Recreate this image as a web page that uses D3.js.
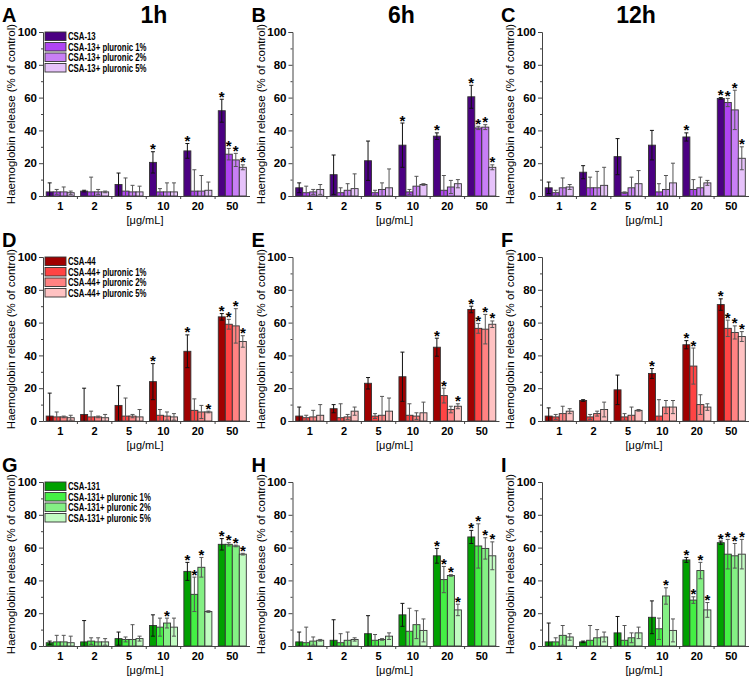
<!DOCTYPE html>
<html>
<head>
<meta charset="utf-8">
<script src="https://cdn.jsdelivr.net/npm/d3@7"></script>
<style>
body { margin: 0; background: #fff; }
text { font-family: "Liberation Sans", Arial, sans-serif; }
</style>
</head>
<body>
<svg id="fig" width="753" height="682"></svg>
<script>
'use strict';

var concentrations = ['1', '2', '5', '10', '20', '50'];
var timepoints = ['1h', '6h', '12h'];
var compounds = ['CSA-13', 'CSA-44', 'CSA-131'];
var suffixes = ['', '+ pluronic 1%', '+ pluronic 2%', '+ pluronic 5%'];
var letters = ['A', 'B', 'C', 'D', 'E', 'F', 'G', 'H', 'I'];
var yTicks = [0, 20, 40, 60, 80, 100];

var purples = ['#4b0082', '#b044f2', '#c87ff5', '#e6c2fa'];
var reds = ['#a00000', '#ff4444', '#ff8282', '#ffc2c2'];
var greens = ['#00a000', '#44f044', '#84f084', '#c2fcc2'];

// CSA-13 -- 1h / 6h / 12h  (one row per series: CSA, +1%, +2%, +5%)
var valA = [[2.5, 3, 7, 20.5, 27.5, 52], [2.5, 2.5, 3, 2.5, 3, 25.5], [2.5, 2.5, 2.5, 2.5, 3, 22], [2, 2.5, 2.5, 2.5, 3.5, 17.5]];
var errA = [[5.5, 0.5, 7, 6.5, 4.5, 7], [1.5, 9, 8, 2, 13, 3.5], [3, 1.5, 4, 5.5, 9.5, 4], [1, 0.5, 3.5, 5.5, 5, 1.5]];
var sigA = [['10', '20', '50'], ['50'], ['50'], ['50']];

var valB = [[5, 13, 21.5, 31, 36.5, 60.5], [2, 2, 2, 2.5, 3.5, 41.5], [2.5, 3.5, 4, 6, 5.5, 42], [4, 4.5, 5, 7, 7.5, 17.5]];
var errB = [[3, 12, 12, 13.5, 2, 7], [4, 3, 1.5, 1.5, 9, 1], [1.5, 4, 4, 6, 4, 1.5], [3, 9, 11.5, 0.5, 2.5, 1.5]];
var sigB = [['10', '20', '50'], ['50'], ['50'], ['50']];

var valC = [[5, 14.5, 24, 31, 36, 59.5], [2, 5, 2, 2.5, 4, 57], [5, 5, 5, 4, 5, 52.5], [5.5, 6.5, 7.5, 8, 8, 23]];
var errC = [[3.5, 4, 11, 9, 2.5, 0.5], [1.5, 6.5, 0.5, 5, 6, 2.5], [6, 10, 6.5, 8.5, 6.5, 12], [1.5, 11, 8, 12, 1.5, 7]];
var sigC = [['20', '50'], ['50'], ['50'], ['50']];

// CSA-44
var valD = [[3, 4, 9.5, 24, 42.5, 63.5], [2.5, 2.5, 3, 3.5, 6.5, 59], [2.5, 2.5, 3, 3, 5.5, 58], [2, 2, 2.5, 2.5, 5.5, 48.5]];
var errD = [[14, 16, 12, 11, 10, 2], [3, 3.5, 11, 3.5, 7, 3], [0.5, 0.5, 1, 2.5, 4, 10.5], [1.5, 2, 4.5, 2, 0.5, 3.5]];
var sigD = [['10', '20', '50'], ['50'], ['50'], ['20', '50']];

var valE = [[3, 7.5, 23, 27, 45, 68], [2, 2, 3, 3.5, 15.5, 56.5], [2.5, 2.5, 3.5, 3, 7, 56], [3.5, 6, 6, 5, 9, 59]];
var errE = [[5.5, 2.5, 3.5, 15, 5.5, 2], [1.5, 8.5, 1.5, 7, 4.5, 3], [4, 1.5, 11.5, 2, 2, 9], [6.5, 2.5, 8, 6.5, 1.5, 2]];
var sigE = [['20', '50'], ['20', '50'], ['50'], ['20', '50']];

var valF = [[3, 12.5, 19, 29, 46.5, 71], [2.5, 2.5, 2.5, 3, 33.5, 56.5], [4.5, 4.5, 3.5, 8.5, 10, 54], [6, 7, 6.5, 8.5, 8.5, 51.5]];
var errF = [[5, 0.5, 9, 3, 2.5, 3.5], [1.5, 1.5, 2, 10, 11, 5], [4.5, 1.5, 5, 4, 6, 4], [1.5, 4.5, 0.5, 4, 2, 3]];
var sigF = [['10', '20', '50'], ['20', '50'], ['50'], ['50']];

// CSA-131
var valG = [[2, 2.5, 4.5, 12.5, 45.5, 62], [2.5, 3, 4, 11.5, 31.5, 62], [2.5, 2.5, 4, 14, 48, 61], [2, 2.5, 4.5, 11.5, 21, 56]];
var errG = [[1, 13, 4, 6.5, 5.5, 3.5], [4, 2, 1.5, 5.5, 10.5, 1], [4, 2.5, 9, 3, 6, 0.5], [4, 2, 1.5, 5.5, 0.5, 0.5]];
var sigG = [['20', '50'], ['20', '50'], ['10', '20', '50'], ['50']];

var valH = [[2.5, 3.5, 7.5, 19, 55, 66.5], [2, 2, 3.5, 9, 40.5, 61], [3, 3.5, 4, 13, 43, 59.5], [3.5, 4, 6, 9.5, 22, 55]];
var errH = [[6, 12.5, 11, 7, 4.5, 4], [9.5, 5.5, 3.5, 14, 8, 13.5], [2.5, 5, 0.5, 8.5, 0.5, 6.5], [0.5, 1, 2, 7, 3.5, 8.5]];
var sigH = [['20', '50'], ['20', '50'], ['20', '50'], ['20', '50']];

var valI = [[2.5, 2.5, 8, 17.5, 52.5, 63], [2.5, 3.5, 3.5, 10.5, 28, 56], [6.5, 5, 5, 30.5, 46, 55], [5.5, 5.5, 8, 9.5, 22, 56]];
var errI = [[11.5, 0.5, 10, 10, 1.5, 1], [2.5, 9, 9, 6.5, 2, 9], [6, 5, 3, 5, 5, 7.5], [2, 3, 3.5, 7, 4.5, 9]];
var sigI = [['20', '50'], ['20', '50'], ['10', '20', '50'], ['20', '50']];

var panels = [
  [valA, errA, sigA], [valB, errB, sigB], [valC, errC, sigC],
  [valD, errD, sigD], [valE, errE, sigE], [valF, errF, sigF],
  [valG, errG, sigG], [valH, errH, sigH], [valI, errI, sigI]
];
var palettes = [purples, reds, greens];
var titleX = [154, 152, 137];

var svg = d3.select('#fig');

panels.forEach(function (p, k) {
  var row = Math.floor(k / 3), col = k % 3;
  var colors = palettes[row];
  var g = svg.append('g')
    .attr('transform', 'translate(' + (col * 249.5) + ',' + (row * 225) + ')');

  var x0 = d3.scaleBand().domain(concentrations).range([43, 249.5]);
  var x1 = d3.scaleBand().domain(d3.range(4)).range([3.2, x0.bandwidth() - 3.2]);
  var y = d3.scaleLinear().domain([0, 100]).range([196, 32]);

  // panel letter + time title
  g.append('text').attr('x', 2).attr('y', 22)
    .style('font-size', '20px').style('font-weight', 'bold')
    .text(letters[k]);
  if (row === 0) {
    g.append('text').attr('x', titleX[col]).attr('y', 23)
      .attr('text-anchor', 'middle')
      .style('font-size', '23px').style('font-weight', 'bold')
      .text(timepoints[col]);
  }

  // bars
  var series = p[0].map(function (vals, s) {
    return vals.map(function (v, i) {
      return { s: s, c: concentrations[i], v: v, e: p[1][s][i], sig: p[2][s].indexOf(concentrations[i]) >= 0 };
    });
  });
  var flat = d3.merge(series);

  g.append('g').selectAll('rect').data(flat).join('rect')
    .attr('x', function (d) { return x0(d.c) + x1(d.s); })
    .attr('y', function (d) { return y(d.v); })
    .attr('width', x1.bandwidth())
    .attr('height', function (d) { return y(0) - y(d.v); })
    .attr('fill', function (d) { return colors[d.s]; })
    .attr('stroke', '#333')
    .attr('stroke-width', 0.9);

  // error bars
  var eb = g.append('g').selectAll('g').data(flat).join('g')
    .attr('stroke', function (d) { return d.s === 0 ? '#111' : '#555'; })
    .attr('stroke-width', 1)
    .attr('transform', function (d) { return 'translate(' + (x0(d.c) + x1(d.s) + x1.bandwidth() / 2) + ',0)'; });
  eb.append('line')
    .attr('y1', function (d) { return y(Math.max(0, d.v - d.e)); })
    .attr('y2', function (d) { return y(d.v + d.e); });
  eb.append('line').attr('x1', -2).attr('x2', 2)
    .attr('y1', function (d) { return y(d.v + d.e); })
    .attr('y2', function (d) { return y(d.v + d.e); });
  eb.filter(function (d) { return d.v - d.e > 0; }).append('line').attr('x1', -2).attr('x2', 2)
    .attr('y1', function (d) { return y(d.v - d.e); })
    .attr('y2', function (d) { return y(d.v - d.e); });

  // significance stars
  g.append('g').selectAll('text').data(flat.filter(function (d) { return d.sig; })).join('text')
    .attr('x', function (d) { return x0(d.c) + x1(d.s) + x1.bandwidth() / 2; })
    .attr('y', function (d) { return y(d.v + d.e) + 2.5; })
    .attr('text-anchor', 'middle')
    .style('font-size', '15px').style('font-weight', 'bold')
    .text('*');

  // y axis
  var yAxis = g.append('g').attr('transform', 'translate(43,0)')
    .call(d3.axisLeft(y).tickValues(yTicks).tickSize(4).tickPadding(2));
  g.append('g').attr('transform', 'translate(43,0)')
    .call(d3.axisLeft(y).tickValues([10, 30, 50, 70, 90]).tickSize(2).tickFormat(''))
    .select('.domain').remove();
  yAxis.selectAll('text').style('font-size', '11.5px').style('font-weight', 'bold')
    .attr('font-family', null);

  // x axis
  var xAxis = g.append('g').attr('transform', 'translate(0,196)')
    .call(d3.axisBottom(x0).tickSize(0).tickPadding(6).tickSizeOuter(0));
  xAxis.selectAll('text').style('font-size', '11px').style('font-weight', 'bold')
    .attr('font-family', null);
  xAxis.selectAll('.tick').filter(function (d, i) { return i > 0; }).append('line')
    .attr('x1', -x0.step() / 2).attr('x2', -x0.step() / 2)
    .attr('y2', 3).attr('stroke', 'currentColor');

  g.selectAll('.domain, .tick line').attr('stroke', '#444');

  g.append('text').attr('x', 145).attr('y', 224)
    .attr('text-anchor', 'middle')
    .style('font-size', '11px')
    .text('[\u03bcg/mL]');

  g.append('text')
    .attr('transform', 'translate(15,114) rotate(-90)')
    .attr('text-anchor', 'middle')
    .style('font-size', '11.5px')
    .text('Haemoglobin release (% of control)');

  // legend
  if (col === 0) {
    var lg = g.append('g').selectAll('g').data(suffixes).join('g')
      .attr('transform', function (d, i) { return 'translate(45,' + (32 + i * 10.5) + ')'; });
    lg.append('rect').attr('width', 21).attr('height', 8.5)
      .attr('fill', function (d, i) { return colors[i]; })
      .attr('stroke', '#333').attr('stroke-width', 0.9);
    lg.append('text')
      .attr('transform', 'translate(23,8) scale(0.78,1)')
      .style('font-size', '10px').style('font-weight', 'bold')
      .text(function (d) { return compounds[row] + d; });
  }
});
</script>
</body>
</html>
